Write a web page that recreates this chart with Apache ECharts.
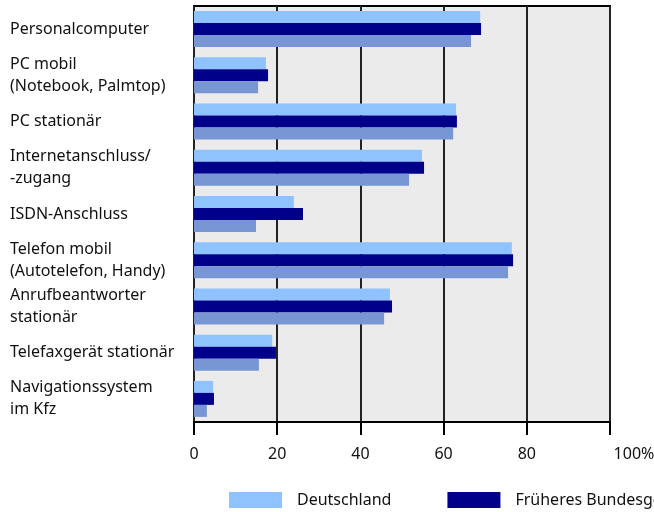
<!DOCTYPE html>
<html>
<head>
<meta charset="utf-8">
<script src="https://cdn.jsdelivr.net/npm/echarts@6/dist/echarts.min.js"></script>
<style>
  html, body { margin: 0; padding: 0; background: #ffffff; }
  #chart { width: 654px; height: 512px; }
</style>
</head>
<body>
<div id="chart"></div>
<script>
var categories = [
  "Personalcomputer",
  "PC mobil\n(Notebook, Palmtop)",
  "PC stationär",
  "Internetanschluss/\n-zugang",
  "ISDN-Anschluss",
  "Telefon mobil\n(Autotelefon, Handy)",
  "Anrufbeantworter\nstationär",
  "Telefaxgerät stationär",
  "Navigationssystem\nim Kfz"
];
var seriesNames = ["Deutschland", "Früheres Bundesgebiet", "Neue Länder und Berlin-Ost"];
var deutschland = [68.8, 17.3, 63.0, 54.8, 24.0, 76.4, 47.1, 18.8, 4.6];
var fruehBund = [69.0, 17.8, 63.2, 55.3, 26.2, 76.7, 47.6, 19.7, 4.8];
var neueLaender = [66.6, 15.4, 62.3, 51.7, 14.9, 75.5, 45.7, 15.6, 3.1];
var xTicks = [0, 20, 40, 60, 80, 100];

var colors = ["#8ec3ff", "#00008b", "#7896d4"];
var font = "'Noto Sans', sans-serif";

var myChart = echarts.init(document.getElementById("chart"));
var option = {
  backgroundColor: "#ffffff",
  animation: false,
  color: colors,
  grid: {
    left: 194,
    right: 44,
    top: 6,
    bottom: 90,
    outerBoundsMode: "none",
    containLabel: false,
    show: true,
    backgroundColor: "#ebebeb",
    borderColor: "#000000",
    borderWidth: 2
  },
  legend: {
    left: 229,
    top: 492,
    padding: 0,
    width: 1500,
    itemWidth: 53,
    itemHeight: 16,
    itemGap: 56,
    icon: "rect",
    data: seriesNames,
    textStyle: { fontFamily: font, fontSize: 16, color: "#111", padding: [0, 0, 0, 10] }
  },
  xAxis: {
    type: "value",
    min: 0,
    max: 100,
    interval: 20,
    axisLine: { show: true, lineStyle: { color: "#000", width: 2 } },
    axisTick: { show: true, length: 13, lineStyle: { color: "#000", width: 2 } },
    splitLine: { show: true, lineStyle: { color: "#222", width: 2 } },
    axisLabel: {
      margin: 24,
      hideOverlap: false,
      fontFamily: font,
      fontSize: 16,
      color: "#111",
      formatter: function (v) {
        if (xTicks.indexOf(v) < 0) return "";
        return v === 100 ? "{r|100%}" : String(v);
      },
      rich: {
        r: { fontFamily: font, fontSize: 16, color: "#111", padding: [0, 0, 0, 48] }
      }
    }
  },
  yAxis: {
    type: "category",
    inverse: true,
    data: categories,
    axisLine: { show: false },
    axisTick: { show: false },
    splitLine: { show: false },
    axisLabel: {
      align: "left",
      margin: 184,
      fontFamily: font,
      fontSize: 16,
      lineHeight: 22,
      color: "#111"
    }
  },
  series: [
    { name: seriesNames[0], type: "bar", data: deutschland, barWidth: 12, barGap: "0%" },
    { name: seriesNames[1], type: "bar", data: fruehBund, barWidth: 12, barGap: "0%" },
    { name: seriesNames[2], type: "bar", data: neueLaender, barWidth: 12, barGap: "0%" }
  ]
};
myChart.setOption(option);
</script>
</body>
</html>
